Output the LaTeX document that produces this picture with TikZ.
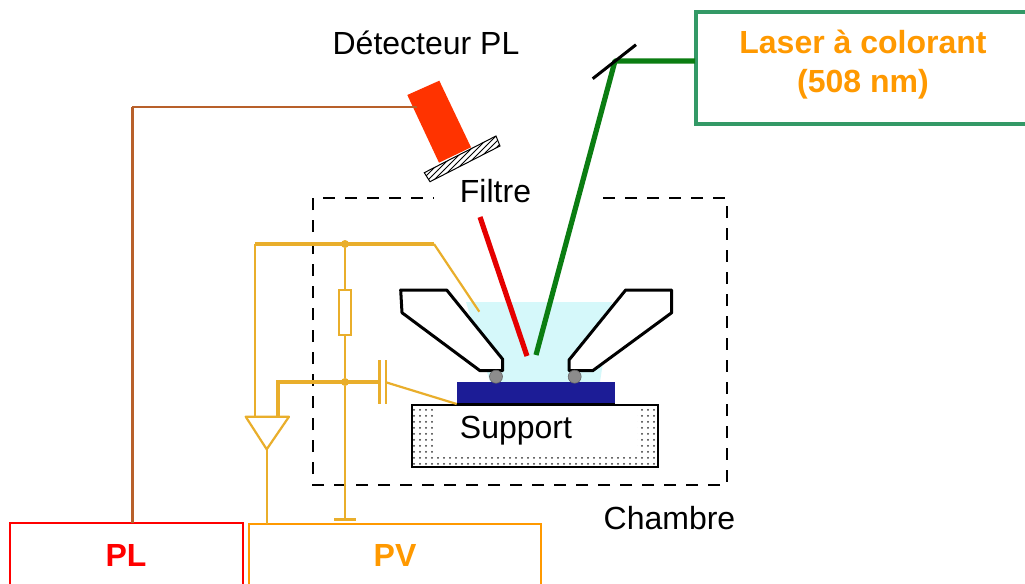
\documentclass[tikz,border=0pt]{standalone}
\usepackage{fontspec}
\setmainfont{Liberation Sans}
\usetikzlibrary{patterns}
\definecolor{wire}{HTML}{E9AE2B}
\definecolor{orangeT}{HTML}{FF9900}
\definecolor{laserG}{HTML}{339966}
\definecolor{beamG}{HTML}{0B7D12}
\definecolor{brownW}{HTML}{B8602A}
\definecolor{cyanB}{HTML}{D5F8FA}
\definecolor{navyB}{HTML}{1C1C96}
\definecolor{detR}{HTML}{FF3300}
\tikzset{
  x=0.5pt,y=-0.5pt,
  lbl/.style={font=\fontsize{16}{19}\selectfont,text=black,inner sep=0pt},
  boldlbl/.style={font=\fontsize{16}{19.5}\selectfont\bfseries,inner sep=0pt,align=center},
  probe/.style={draw=black,line width=1.5pt,fill=white,line join=round},
  wirethin/.style={draw=wire,line width=1.1pt},
  wirethick/.style={draw=wire,line width=2pt},
  junction/.style={circle,fill=wire,inner sep=0pt,minimum size=4pt},
  ball/.style={circle,draw=black!60,fill=black!45,inner sep=0pt,minimum size=6.5pt,line width=0.3pt},
  chamber/.style={draw=black,line width=1.2pt,dash pattern=on 6pt off 5pt},
}
\begin{document}
\begin{tikzpicture}
\useasboundingbox (0,0) rectangle (1025,584);
\clip (0,0) rectangle (1025,584);
\fill[white] (0,0) rectangle (1025,584);
% chamber
\draw[chamber] (603,198) -- (727,198) -- (727,485) -- (313,485) -- (313,198) -- (434,198);
% support
\draw[black,line width=0.6pt,pattern=dots,pattern color=black!80] (412,405) rectangle (658,467);
\fill[white] (433,405) rectangle (637,457);
\draw[black,line width=0.6pt] (412,405) rectangle (658,467);
% cyan region
\fill[cyanB] (466,302) -- (612,302) -- (600,382) -- (490,382) -- cycle;
% probes
\draw[probe] (400.7,290) -- (446.7,290) -- (502.7,359.3) -- (502.7,370.7) -- (480,370.7) -- (402,312.7) -- cycle;
\draw[probe] (671.7,290) -- (625.7,290) -- (569,360) -- (569,370.7) -- (592.7,370.7) -- (671.7,312.7) -- cycle;
% sample
\fill[navyB] (457,382) rectangle (615,403);
\fill[black] (457,402.5) rectangle (615,405.5);
\node[ball] (b1) at (496,376.7) {};
\node[ball] (b2) at (574.7,376.7) {};
% detector and filter
\fill[detR] (407.3,95) -- (439.3,80.7) -- (471,147.3) -- (439,162.7) -- cycle;
\fill[white] (424.3,172.7) -- (496,136) -- (500,146) -- (430,181.7) -- cycle;
\draw[black,line width=0.5pt,pattern=north east lines,pattern color=black] (424.3,172.7) -- (496,136) -- (500,146) -- (430,181.7) -- cycle;
% boxes
\coordinate (detL) at (417,107);
\coordinate (plTop) at (132,523);
\coordinate (corner) at (132,107);
\draw[draw=red,line width=0.8pt,fill=white] (10,523) rectangle (243,600);
\draw[draw=orangeT,line width=1pt,fill=white] (249,524) rectangle (541,600);
\draw[draw=laserG,line width=2.2pt,fill=white] (696,12) rectangle (1040,124);
\node[boldlbl,text=red] (pl) at (126,555) {PL};
\node[boldlbl,text=orangeT] (pv) at (395,555) {PV};
\node[boldlbl,text=orangeT] (laser) at (863,64.5) {Laser à colorant\\(508 nm)};
% detector line
\draw[brownW,line width=0.8pt] (detL) -- (corner);
\draw[brownW,line width=1.5pt] (corner) -- (plTop);
% beams
\coordinate (mir) at (615,61);
\coordinate (laserL) at (695,61);
\coordinate (spotG) at (536,355);
\coordinate (spotR) at (527,356);
\coordinate (filtB) at (480,217);
\draw[red!90!black,line width=2.6pt] (filtB) -- (spotR);
\draw[beamG,line width=2.6pt,line join=round] (laserL) -- (mir) -- (spotG);
\draw[black,line width=1.5pt] (592.7,78.7) -- (636,44.7);
% circuit
\coordinate (topL) at (255,244);
\coordinate (topR) at (434,244);
\coordinate (topEnd) at (479.3,311.7);
\coordinate (ampL) at (245.7,416.7);
\coordinate (ampR) at (289,416.7);
\coordinate (ampB) at (266.7,449.3);
\coordinate (pvTop) at (266.7,524);
\node[junction] (j1) at (345,244) {};
\node[junction] (j2) at (345,382) {};
\coordinate (gnd) at (345,519.5);
\draw[wirethick] (topL) -- (topR);
\draw[wirethin] (topR) -- (topEnd);
\draw[wirethin] (topL) -- (255,416.7);
\draw[wirethin] (j1) -- (345,290);
\draw[wirethin,fill=white] (339,290) rectangle (351,335.3);
\draw[wirethin] (345,335.3) -- (j2) -- (gnd);
\draw[wirethin] (334,519.5) -- (356,519.5);
\draw[wirethick] (277.7,416.7) -- (277.7,382.3) -- (380,382.3);
\draw[wirethin] (379.5,360) -- (379.5,404);
\draw[wirethin] (386,360) -- (386,404);
\draw[wirethin] (386,382.3) -- (456.7,404);
\draw[wirethin,line join=round] (ampL) -- (ampR) -- (ampB) -- cycle;
\draw[wirethin] (ampB) -- (pvTop);
% labels
\node[lbl] (det) at (426,43) {Détecteur PL};
\node[lbl,fill=white,inner sep=3pt] (filt) at (495.5,191) {Filtre};
\node[lbl] (sup) at (516,431) {Support};
\node[lbl] (cha) at (669.5,518) {Chambre};
\end{tikzpicture}
\end{document}
